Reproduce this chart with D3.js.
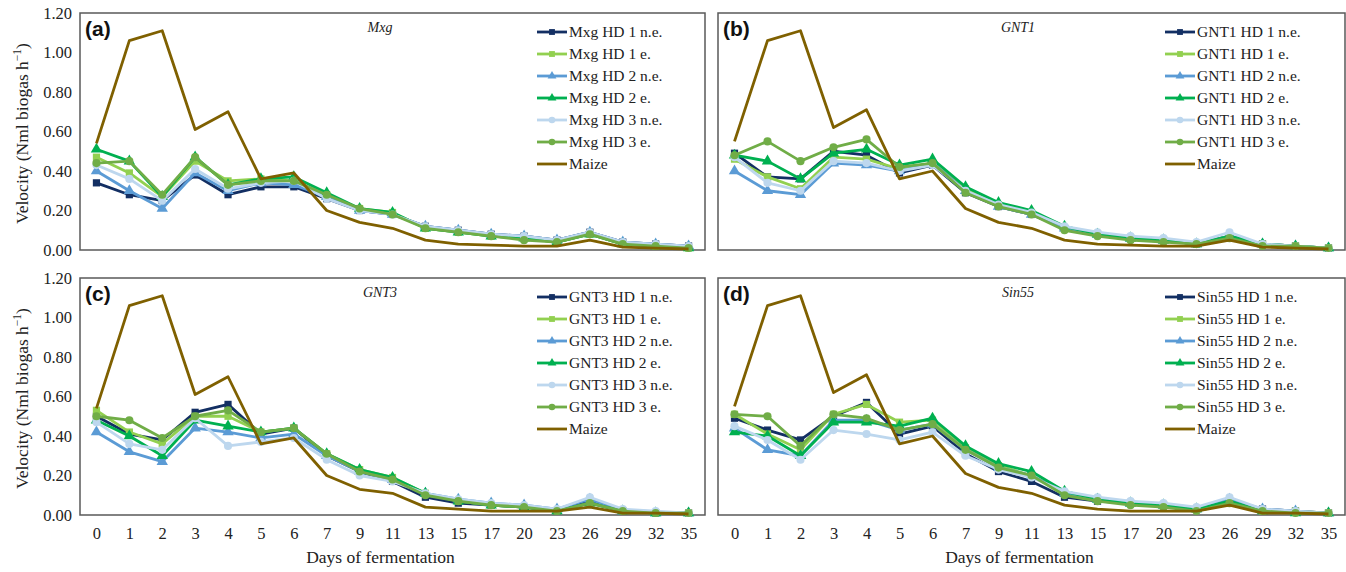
<!DOCTYPE html>
<html>
<head>
<meta charset="utf-8">
<script src="https://cdn.jsdelivr.net/npm/d3@7"></script>
</head>
<body style="margin:0; background:#fff">
<svg id="chart" width="1346" height="572"></svg>
<script>
// days on the x axis (categorical)
const days = [0, 1, 2, 3, 4, 5, 6, 7, 9, 11, 13, 15, 17, 20, 23, 26, 29, 32, 35];
const yTicks = [0, 0.2, 0.4, 0.6, 0.8, 1.0, 1.2];

const seriesKeys = ["HD 1 n.e.", "HD 1 e.", "HD 2 n.e.", "HD 2 e.", "HD 3 n.e.", "HD 3 e.", "Maize"];
const seriesColors = ["#132f63", "#92d050", "#5b9bd5", "#00b050", "#bdd7ee", "#70ad47", "#7f6000"];
const seriesMarkers = ["square", "square", "triangle", "triangle", "circle", "circle", null];

const panels = ["Mxg", "GNT1", "GNT3", "Sin55"];
const panelTags = ["(a)", "(b)", "(c)", "(d)"];

// velocity values, one array per series per panel
const mxg = [
  [0.34, 0.28, 0.25, 0.38, 0.28, 0.32, 0.32, 0.26, 0.20, 0.18, 0.12, 0.10, 0.08, 0.07, 0.05, 0.09, 0.04, 0.03, 0.02],
  [0.47, 0.39, 0.27, 0.45, 0.35, 0.36, 0.35, 0.28, 0.21, 0.19, 0.11, 0.09, 0.07, 0.06, 0.04, 0.08, 0.03, 0.02, 0.01],
  [0.40, 0.30, 0.21, 0.39, 0.30, 0.34, 0.33, 0.27, 0.20, 0.18, 0.12, 0.10, 0.08, 0.07, 0.05, 0.09, 0.04, 0.03, 0.02],
  [0.51, 0.45, 0.27, 0.47, 0.33, 0.36, 0.37, 0.29, 0.21, 0.19, 0.11, 0.09, 0.07, 0.06, 0.04, 0.08, 0.03, 0.02, 0.01],
  [0.43, 0.36, 0.25, 0.41, 0.31, 0.34, 0.35, 0.26, 0.20, 0.18, 0.12, 0.10, 0.08, 0.07, 0.05, 0.09, 0.04, 0.03, 0.02],
  [0.44, 0.45, 0.28, 0.47, 0.33, 0.35, 0.35, 0.28, 0.21, 0.18, 0.11, 0.09, 0.07, 0.05, 0.04, 0.08, 0.03, 0.02, 0.01],
  [0.54, 1.06, 1.11, 0.61, 0.70, 0.36, 0.39, 0.20, 0.14, 0.11, 0.05, 0.03, 0.025, 0.02, 0.02, 0.05, 0.015, 0.01, 0.005]
];
const gnt1 = [
  [0.49, 0.37, 0.36, 0.50, 0.48, 0.39, 0.43, 0.29, 0.22, 0.18, 0.11, 0.08, 0.06, 0.05, 0.03, 0.07, 0.03, 0.02, 0.01],
  [0.46, 0.37, 0.31, 0.47, 0.46, 0.41, 0.44, 0.31, 0.23, 0.19, 0.11, 0.08, 0.06, 0.05, 0.03, 0.07, 0.03, 0.02, 0.01],
  [0.40, 0.30, 0.28, 0.44, 0.43, 0.40, 0.44, 0.30, 0.22, 0.18, 0.11, 0.08, 0.06, 0.05, 0.03, 0.07, 0.03, 0.02, 0.01],
  [0.48, 0.45, 0.36, 0.49, 0.51, 0.43, 0.46, 0.32, 0.24, 0.20, 0.12, 0.08, 0.06, 0.05, 0.03, 0.07, 0.03, 0.02, 0.01],
  [0.47, 0.34, 0.30, 0.45, 0.44, 0.40, 0.43, 0.30, 0.23, 0.19, 0.12, 0.09, 0.07, 0.06, 0.04, 0.09, 0.03, 0.02, 0.01],
  [0.48, 0.55, 0.45, 0.52, 0.56, 0.42, 0.44, 0.29, 0.22, 0.18, 0.10, 0.07, 0.05, 0.04, 0.03, 0.06, 0.02, 0.02, 0.01],
  [0.55, 1.06, 1.11, 0.62, 0.71, 0.36, 0.40, 0.21, 0.14, 0.11, 0.05, 0.03, 0.025, 0.02, 0.02, 0.05, 0.015, 0.01, 0.005]
];
const gnt3 = [
  [0.50, 0.41, 0.38, 0.52, 0.56, 0.41, 0.44, 0.30, 0.22, 0.17, 0.09, 0.06, 0.05, 0.04, 0.02, 0.07, 0.02, 0.01, 0.01],
  [0.53, 0.42, 0.36, 0.50, 0.50, 0.42, 0.44, 0.31, 0.23, 0.19, 0.11, 0.07, 0.05, 0.04, 0.02, 0.06, 0.02, 0.01, 0.01],
  [0.42, 0.32, 0.27, 0.44, 0.42, 0.39, 0.41, 0.30, 0.22, 0.18, 0.11, 0.08, 0.06, 0.05, 0.03, 0.08, 0.02, 0.01, 0.01],
  [0.48, 0.40, 0.30, 0.48, 0.45, 0.42, 0.44, 0.31, 0.23, 0.19, 0.11, 0.07, 0.05, 0.04, 0.02, 0.06, 0.02, 0.01, 0.01],
  [0.47, 0.36, 0.33, 0.49, 0.35, 0.37, 0.39, 0.28, 0.20, 0.17, 0.11, 0.08, 0.06, 0.05, 0.03, 0.09, 0.03, 0.02, 0.01],
  [0.50, 0.48, 0.39, 0.50, 0.53, 0.42, 0.44, 0.31, 0.22, 0.18, 0.10, 0.07, 0.05, 0.04, 0.02, 0.06, 0.02, 0.01, 0.01],
  [0.54, 1.06, 1.11, 0.61, 0.70, 0.36, 0.39, 0.20, 0.13, 0.11, 0.04, 0.03, 0.02, 0.02, 0.02, 0.04, 0.01, 0.01, 0.005]
];
const sin55 = [
  [0.49, 0.43, 0.38, 0.50, 0.57, 0.41, 0.45, 0.31, 0.22, 0.17, 0.09, 0.07, 0.06, 0.05, 0.03, 0.07, 0.03, 0.02, 0.01],
  [0.51, 0.41, 0.33, 0.51, 0.56, 0.47, 0.48, 0.34, 0.25, 0.20, 0.11, 0.08, 0.06, 0.05, 0.03, 0.07, 0.02, 0.02, 0.01],
  [0.44, 0.33, 0.30, 0.48, 0.48, 0.43, 0.46, 0.33, 0.24, 0.20, 0.11, 0.08, 0.06, 0.05, 0.03, 0.08, 0.03, 0.02, 0.01],
  [0.42, 0.40, 0.30, 0.47, 0.47, 0.45, 0.49, 0.35, 0.26, 0.22, 0.12, 0.08, 0.06, 0.05, 0.03, 0.07, 0.02, 0.01, 0.01],
  [0.45, 0.38, 0.28, 0.43, 0.41, 0.38, 0.42, 0.30, 0.23, 0.19, 0.12, 0.09, 0.07, 0.06, 0.04, 0.09, 0.03, 0.02, 0.01],
  [0.51, 0.50, 0.35, 0.51, 0.49, 0.43, 0.46, 0.33, 0.24, 0.20, 0.10, 0.07, 0.05, 0.04, 0.02, 0.06, 0.02, 0.01, 0.01],
  [0.55, 1.06, 1.11, 0.62, 0.71, 0.36, 0.40, 0.21, 0.14, 0.11, 0.05, 0.03, 0.02, 0.02, 0.02, 0.05, 0.01, 0.01, 0.005]
];
const panelData = [mxg, gnt1, gnt3, sin55];

const serif = "Liberation Serif";

const svg = d3.select("#chart");

// frame positions of the four panels
const frames = [
  {x: 80, y: 13, w: 625, h: 237},
  {x: 718, y: 13, w: 627, h: 237},
  {x: 80, y: 278, w: 625, h: 237},
  {x: 718, y: 278, w: 627, h: 237}
];

const symbolType = {square: d3.symbolSquare, triangle: d3.symbolTriangle, circle: d3.symbolCircle};

panels.forEach((name, p) => {
  const f = frames[p];
  const g = svg.append("g").attr("transform", `translate(${f.x},${f.y})`);

  const x = d3.scalePoint().domain(days).range([0, f.w]).padding(0.5);
  const y = d3.scaleLinear().domain([0, 1.2]).range([f.h, 0]);

  // frame
  g.append("rect")
    .attr("width", f.w).attr("height", f.h)
    .attr("fill", "none").attr("stroke", "#595959").attr("stroke-width", 1.5);

  const left = p % 2 == 0;
  const bottom = p >= 2;

  if (left) {
    const ya = g.append("g")
      .call(d3.axisLeft(y).tickValues(yTicks).tickSize(0).tickPadding(8).tickFormat(d3.format(".2f")))
      .attr("font-family", serif)
      .attr("font-size", 16.5);
    ya.select(".domain").remove();
    ya.selectAll("text").attr("fill", "#222");

    g.append("text")
      .attr("transform", `translate(${-58},${f.h / 2 + 2}) rotate(-90)`)
      .attr("text-anchor", "middle")
      .attr("dy", "0.35em")
      .attr("font-family", serif)
      .attr("font-size", 17.5)
      .attr("fill", "#222")
      .html('Velocity (Nml biogas h<tspan dy="-7" font-size="11.5">\u22121</tspan><tspan dy="7">)</tspan>');
  }

  if (bottom) {
    const xa = g.append("g")
      .attr("transform", `translate(0,${f.h})`)
      .call(d3.axisBottom(x).tickSize(0).tickPadding(12))
      .attr("font-family", serif)
      .attr("font-size", 16.5);
    xa.select(".domain").remove();
    xa.selectAll("text").attr("fill", "#222");

    g.append("text")
      .attr("x", f.w / 2 - 12)
      .attr("y", f.h + 48)
      .attr("text-anchor", "middle")
      .attr("font-family", serif)
      .attr("font-size", 17.5)
      .attr("fill", "#222")
      .text("Days of fermentation");
  }

  // panel tag and title
  g.append("text")
    .attr("x", 5).attr("y", 23)
    .attr("font-family", "Liberation Sans")
    .attr("font-weight", "bold")
    .attr("font-size", 21)
    .attr("fill", "#111")
    .text(panelTags[p]);

  g.append("text")
    .attr("x", 300).attr("y", 19)
    .attr("text-anchor", "middle")
    .attr("font-family", serif)
    .attr("font-style", "italic")
    .attr("font-size", 14)
    .attr("fill", "#222")
    .text(name);

  const line = d3.line()
    .x((d, i) => x(days[i]))
    .y(d => y(d));

  panelData[p].forEach((vals, s) => {
    g.append("path")
      .datum(vals)
      .attr("d", line)
      .attr("fill", "none")
      .attr("stroke", seriesColors[s])
      .attr("stroke-width", 2.8)
      .attr("stroke-linejoin", "round");

    if (seriesMarkers[s]) {
      g.append("g").selectAll("path")
        .data(vals)
        .join("path")
        .attr("transform", (d, i) => `translate(${x(days[i])},${y(d)})`)
        .attr("d", d3.symbol().type(symbolType[seriesMarkers[s]]).size(seriesMarkers[s] == "triangle" ? 56 : 52))
        .attr("fill", seriesColors[s]);
    }
  });

  // legend
  const lg = g.append("g").attr("transform", `translate(${f.w - 168 + (p % 2 ? -12 : 0)},${19})`);
  seriesKeys.forEach((k, s) => {
    const row = lg.append("g").attr("transform", `translate(0,${s * 22})`);
    row.append("line")
      .attr("x1", 0).attr("x2", 30)
      .attr("stroke", seriesColors[s]).attr("stroke-width", 2.8);
    if (seriesMarkers[s]) {
      row.append("path")
        .attr("transform", "translate(15,0)")
        .attr("d", d3.symbol().type(symbolType[seriesMarkers[s]]).size(34))
        .attr("fill", seriesColors[s]);
    }
    row.append("text")
      .attr("x", 32).attr("dy", "0.35em")
      .attr("font-family", serif)
      .attr("font-size", 15.5)
      .attr("fill", "#222")
      .text(s < 6 ? name + " " + k : k);
  });
});
</script>
</body>
</html>
